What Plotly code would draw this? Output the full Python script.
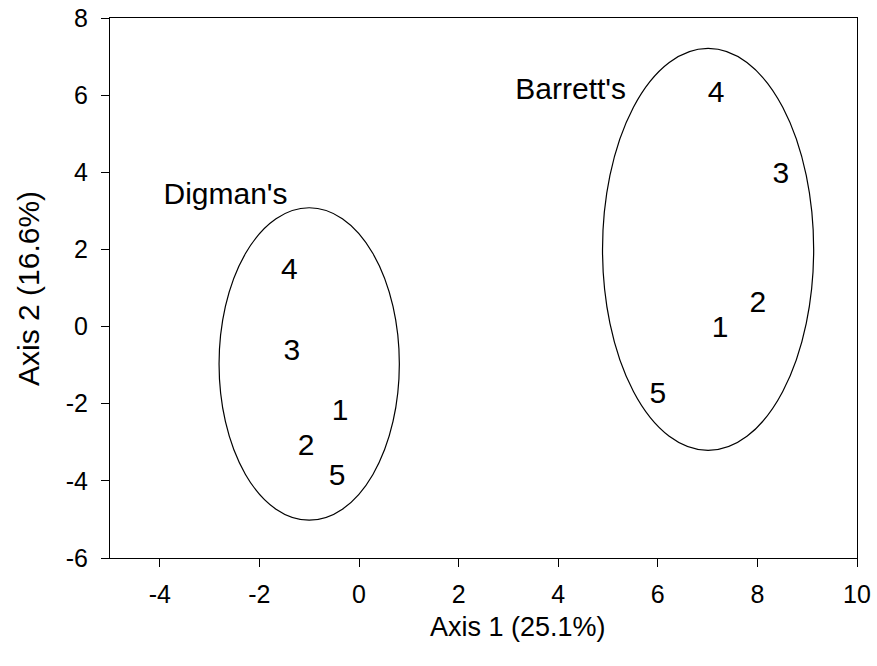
import plotly.graph_objects as go

# Data
digman_labels = ["1", "2", "3", "4", "5"]
digman_x = [-0.38, -1.06, -1.35, -1.40, -0.44]
digman_y = [-2.23, -3.14, -0.68, 1.44, -3.92]

barrett_labels = ["1", "2", "3", "4", "5"]
barrett_x = [7.25, 8.01, 8.47, 7.17, 6.00]
barrett_y = [-0.07, 0.57, 3.92, 6.02, -1.79]

group_names = ["Digman's", "Barrett's"]
group_label_x = [-2.68, 4.25]
group_label_y = [3.38, 6.10]

# ellipse centres and radii
ell_cx = [-1.0, 7.01]
ell_cy = [-0.97, 2.0]
ell_rx = [1.81, 2.12]
ell_ry = [4.05, 5.21]

x_ticks = [-4, -2, 0, 2, 4, 6, 8, 10]
y_ticks = [-6, -4, -2, 0, 2, 4, 6, 8]
x_title = "Axis 1 (25.1%)"
y_title = "Axis 2 (16.6%)"

font_family = "Liberation Sans, Arial, sans-serif"
txt_font = dict(family=font_family, size=30, color="black")

fig = go.Figure()

fig.add_trace(go.Scatter(x=digman_x, y=digman_y, text=digman_labels, mode="text",
                         textfont=txt_font, showlegend=False, hoverinfo="skip"))
fig.add_trace(go.Scatter(x=barrett_x, y=barrett_y, text=barrett_labels, mode="text",
                         textfont=txt_font, showlegend=False, hoverinfo="skip"))
fig.add_trace(go.Scatter(x=group_label_x, y=group_label_y, text=group_names, mode="text",
                         textfont=txt_font, showlegend=False, hoverinfo="skip"))

for cx, cy, rx, ry in zip(ell_cx, ell_cy, ell_rx, ell_ry):
    fig.add_shape(type="circle", xref="x", yref="y",
                  x0=cx - rx, x1=cx + rx, y0=cy - ry, y1=cy + ry,
                  line=dict(color="black", width=1.2), fillcolor="rgba(0,0,0,0)")

axis_common = dict(showgrid=False, zeroline=False, showline=True, linecolor="black",
                   linewidth=1.2, mirror=True, ticks="outside", ticklen=8,
                   tickwidth=1.2, tickcolor="black", automargin=False,
                   ticklabeloverflow="allow",
                   tickfont=dict(family=font_family, size=25, color="black"))

fig.update_xaxes(range=[-5, 10], tickvals=x_ticks, ticktext=[str(v) for v in x_ticks],
                 ticklabelstandoff=6, **axis_common)
fig.update_yaxes(range=[-6, 8], tickvals=y_ticks, ticktext=[str(v) for v in y_ticks],
                 ticklabelstandoff=8, **axis_common)

fig.add_annotation(text=x_title, xref="paper", yref="paper", x=0.546, y=-0.128,
                   xanchor="center", yanchor="middle", showarrow=False,
                   font=dict(family=font_family, size=27, color="black"))
fig.add_annotation(text=y_title, xref="paper", yref="paper", x=-0.1098, y=0.5,
                   xanchor="center", yanchor="middle", showarrow=False, textangle=-90,
                   font=dict(family=font_family, size=30, color="black"))

fig.update_layout(width=877, height=666, plot_bgcolor="white", paper_bgcolor="white",
                  margin=dict(l=110, r=20, t=18, b=108), showlegend=False)

fig.write_html("out.html", config={"displayModeBar": False},
               post_script="document.body.style.margin='0';")
